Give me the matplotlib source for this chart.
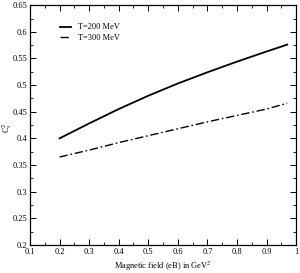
import matplotlib
matplotlib.use("Agg")
import matplotlib.pyplot as plt
from matplotlib.ticker import MultipleLocator

# ---- data ------------------------------------------------------------------
eB = [0.2, 0.3, 0.4, 0.5, 0.6, 0.7, 0.8, 0.9, 0.97]
cs2_T200 = [0.400, 0.428, 0.455, 0.480, 0.503, 0.524, 0.544, 0.563, 0.576]
cs2_T300 = [0.365, 0.378, 0.392, 0.405, 0.418, 0.431, 0.443, 0.455, 0.466]

xticks = [0.1, 0.2, 0.3, 0.4, 0.5, 0.6, 0.7, 0.8, 0.9, 1.0]
xtick_labels = ['0.1', '0.2', '0.3', '0.4', '0.5', '0.6', '0.7', '0.8', '0.9', '1']
yticks = [0.2, 0.25, 0.3, 0.35, 0.4, 0.45, 0.5, 0.55, 0.6, 0.65]
ytick_labels = ['0.2', '0.25', '0.3', '0.35', '0.4', '0.45', '0.5', '0.55', '0.6', '0.65']

plt.rcParams['font.family'] = ['Liberation Serif', 'DejaVu Serif']
plt.rcParams['mathtext.fontset'] = 'stix'

fig = plt.figure(figsize=(3.0, 2.73), dpi=100)
ax = fig.add_axes([0.10, 0.103, 0.887, 0.878])

ax.plot(eB, cs2_T200, color='black', lw=1.3, ls='-', label='T=200 MeV')
ax.plot(eB, cs2_T300, color='black', lw=1.0, ls=(0, (6, 2, 1.2, 2)), label='T=300 MeV')

ax.set_xlim(0.1, 1.0)
ax.set_ylim(0.2, 0.65)
ax.set_xticks(xticks)
ax.set_xticklabels(xtick_labels)
ax.set_yticks(yticks)
ax.set_yticklabels(ytick_labels)
ax.xaxis.set_minor_locator(MultipleLocator(0.05))
ax.yaxis.set_minor_locator(MultipleLocator(0.025))
ax.tick_params(which='both', direction='in', top=True, right=True, labelsize=6, pad=2)
ax.tick_params(which='major', length=4, width=0.7)
ax.tick_params(which='minor', length=2, width=0.6)
for s in ax.spines.values():
    s.set_linewidth(0.9)

ax.set_xlabel('Magnetic field (eB) in GeV$^2$', fontsize=6, labelpad=3)
ax.set_ylabel('C$_s^2$', fontsize=6)
ax.yaxis.set_label_coords(-0.06, 0.49)

ax.legend(loc='upper left', bbox_to_anchor=(0.085, 0.955), frameon=False,
          fontsize=6, handlelength=1.3, labelspacing=0.35, handletextpad=0.9)

fig.savefig('out.png', dpi=100)
